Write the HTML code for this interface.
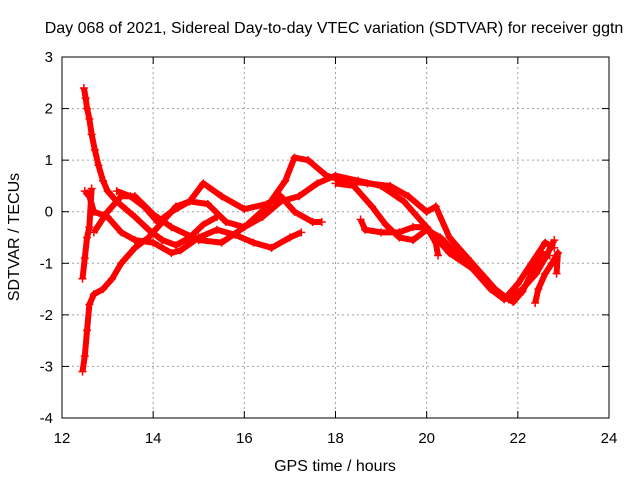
<!DOCTYPE html>
<html><head><meta charset="utf-8"><style>
html,body{margin:0;padding:0;background:#fff;}
svg{display:block;font-family:"Liberation Sans",sans-serif;}
</style></head><body>
<svg id="chart" width="640" height="480" viewBox="0 0 640 480">
<text x="334" y="33" text-anchor="middle" font-size="16">Day 068 of 2021, Sidereal Day-to-day VTEC variation (SDTVAR) for receiver ggtn</text>
<text x="335" y="471" text-anchor="middle" font-size="16">GPS time / hours</text>
<text transform="translate(19,237) rotate(-90)" text-anchor="middle" font-size="16">SDTVAR / TECUs</text>
<g id="grid"></g><g id="ticks"></g><g id="series"></g>
<rect x="62" y="57" width="547" height="361" fill="none" stroke="#000" stroke-width="1"/>
</svg>
<script>
const xTicks=[12,14,16,18,20,22,24];
const yTicks=[3,2,1,0,-1,-2,-3,-4];
const sA=[[12.48,2.4],[12.52,2.2],[12.55,2.0],[12.6,1.8],[12.65,1.5],[12.72,1.2],[12.8,0.9],[12.9,0.6],[13.0,0.4],[13.2,0.2],[13.4,0.05],[13.6,-0.1],[13.9,-0.35],[14.2,-0.55],[14.5,-0.65],[14.8,-0.5],[15.1,-0.25],[15.4,-0.1]];
const sB=[[12.45,-3.1],[12.5,-2.8],[12.55,-2.3],[12.6,-1.8],[12.7,-1.6],[12.9,-1.5],[13.1,-1.3],[13.3,-1.0],[13.6,-0.7],[13.9,-0.5],[14.2,-0.2],[14.5,0.1],[14.8,0.2],[15.2,0.15],[15.6,-0.2],[16.0,-0.3],[16.4,-0.1],[16.8,0.2],[17.2,0.3],[17.6,0.55],[18.0,0.7],[18.5,0.6],[19.0,0.5],[19.5,0.2],[20.0,-0.3],[20.5,-0.8],[21.0,-1.1],[21.4,-1.5],[21.7,-1.7],[22.0,-1.4],[22.3,-1.0],[22.6,-0.6],[22.8,-0.7]];
const sC=[[12.5,0.4],[12.6,0.3],[12.7,0.0],[13.0,-0.1],[13.3,-0.4],[13.6,-0.55],[14.0,-0.6],[14.4,-0.8],[14.6,-0.75],[15.0,-0.5],[15.4,-0.35],[15.8,-0.45],[16.2,-0.6],[16.6,-0.7],[17.0,-0.5],[17.25,-0.4]];
const sD=[[13.2,0.4],[13.5,0.3],[13.8,0.1],[14.1,-0.2],[14.4,0.0],[14.8,0.2],[15.1,0.55],[15.5,0.3],[16.0,0.05],[16.5,0.15],[16.8,0.3],[17.1,0.0],[17.5,-0.2],[17.7,-0.2]];
const sE=[[12.7,-0.4],[13.0,0.0],[13.3,0.3],[13.6,0.3],[14.0,-0.05],[14.4,-0.3],[15.0,-0.55],[15.5,-0.6],[16.0,-0.3],[16.5,0.1],[16.9,0.6],[17.1,1.05],[17.4,1.0],[17.8,0.7],[18.2,0.6],[18.7,0.55],[19.2,0.5],[19.6,0.3],[20.0,0.0],[20.2,0.1],[20.5,-0.5],[20.9,-0.9],[21.2,-1.2],[21.5,-1.5],[21.8,-1.7],[22.1,-1.5],[22.4,-1.2],[22.6,-0.9],[22.8,-0.55]];
const sF=[[18.55,-0.15],[18.65,-0.35],[19.0,-0.4],[19.4,-0.4],[19.7,-0.3],[20.0,-0.3],[20.2,-0.6],[20.25,-0.85]];
const sG=[[18.0,0.55],[18.4,0.5],[18.8,0.1],[19.1,-0.25],[19.4,-0.5],[19.7,-0.55],[20.0,-0.35],[20.3,-0.5],[20.7,-0.85],[21.0,-1.1],[21.3,-1.3],[21.6,-1.6],[21.9,-1.75],[22.1,-1.55],[22.3,-1.2],[22.5,-0.8],[22.7,-0.85]];
const sH=[[22.38,-1.77],[22.45,-1.5],[22.6,-1.2],[22.75,-1.0],[22.88,-0.8],[22.85,-1.2]];
const sI=[[12.45,-1.3],[12.5,-0.9],[12.55,-0.5],[12.6,-0.3],[12.65,0.45]];
const allSeries=[sA,sB,sC,sD,sE,sF,sG,sH,sI];
const NS="http://www.w3.org/2000/svg";
const X=t=>62+(t-12)*547/12, Y=v=>57+(3-v)*361/7;
const grid=document.getElementById('grid'),ticks=document.getElementById('ticks'),ser=document.getElementById('series');
function mk(tag,at,parent){const e=document.createElementNS(NS,tag);for(const k in at)e.setAttribute(k,at[k]);parent.appendChild(e);return e;}
xTicks.forEach(t=>{
  if(t>12&&t<24){const g=mk('line',{x1:X(t),x2:X(t),y1:57,y2:418,stroke:'#a0a0a0','stroke-dasharray':'2,3'},grid);
  
  }
  mk('line',{x1:X(t),x2:X(t),y1:418,y2:411,stroke:'#000'},ticks);
  mk('line',{x1:X(t),x2:X(t),y1:57,y2:64,stroke:'#000'},ticks);
  const l=mk('text',{x:X(t),y:443,'text-anchor':'middle','font-size':15},ticks);l.textContent=t;
  
  
});
yTicks.forEach(v=>{
  if(v<3&&v>-4){const g=mk('line',{x1:62,x2:609,y1:Y(v),y2:Y(v),stroke:'#a0a0a0','stroke-dasharray':'2,3'},grid);
  
  }
  mk('line',{x1:62,x2:69,y1:Y(v),y2:Y(v),stroke:'#000'},ticks);
  mk('line',{x1:609,x2:602,y1:Y(v),y2:Y(v),stroke:'#000'},ticks);
  const l=mk('text',{x:53,y:Y(v)+5,'text-anchor':'end','font-size':15},ticks);l.textContent=v;
  
  
});
allSeries.forEach((s,i)=>{
  const pl=mk('polyline',{points:s.map(p=>X(p[0])+','+Y(p[1])).join(' '),fill:'none',stroke:'#f00','stroke-width':6,'stroke-linejoin':'round'},ser);
  
  
  s.forEach(p=>{const x=X(p[0]),y=Y(p[1]);
    const m=mk('path',{d:`M${x-4},${y}H${x+4}M${x},${y-4}V${y+4}`,stroke:'#f00','stroke-width':1.5},ser);
    
    
  });
});
</script>
</body></html>
